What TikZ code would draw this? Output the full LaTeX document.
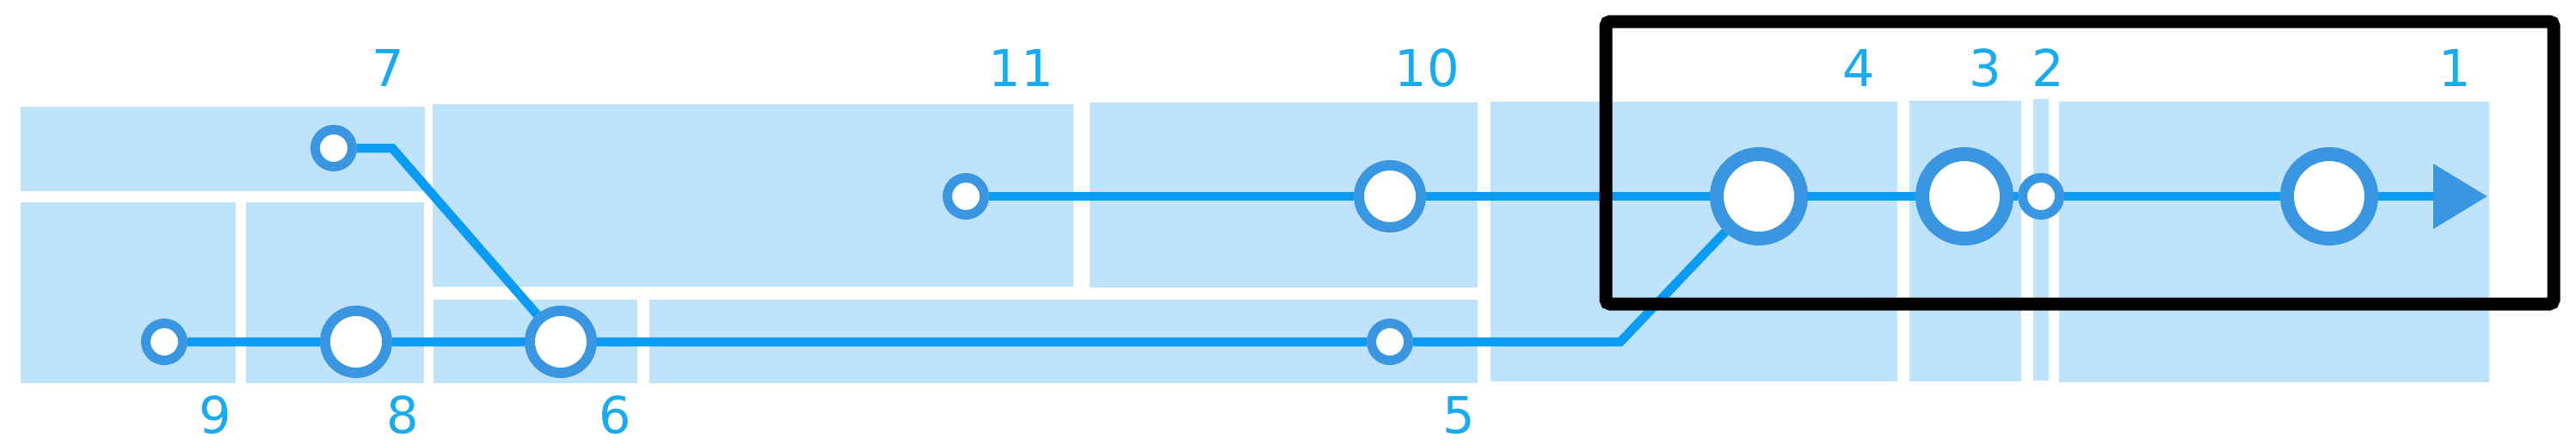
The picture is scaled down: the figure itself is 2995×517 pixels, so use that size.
\documentclass[tikz,border=0pt]{standalone}
\usepackage{fontspec}
\setmainfont{DejaVu Sans}
\usetikzlibrary{arrows.meta}
\definecolor{rectblue}{RGB}{190,227,251}
\definecolor{lineblue}{RGB}{10,155,245}
\definecolor{ringblue}{RGB}{58,150,224}
\definecolor{labelblue}{RGB}{25,170,240}
\pgfdeclarelayer{bglayer}
\pgfdeclarelayer{linelayer}
\pgfsetlayers{bglayer,linelayer,main}
\begin{document}
\begin{tikzpicture}[x=0.01cm,y=-0.01cm,
  zone/.style={fill=rectblue,draw=none},
  station/.style={circle,draw=ringblue,fill=white,inner sep=0pt},
  smallstation/.style={station,minimum size=0.43cm,line width=0.11cm},
  midstation/.style={station,minimum size=0.72cm,line width=0.12cm},
  bigstation/.style={station,minimum size=0.98cm,line width=0.16cm},
  track/.style={draw=lineblue,line width=0.105cm,line join=miter},
  lbl/.style={text=labelblue,font=\fontsize{16.8}{20}\selectfont,inner sep=0pt,anchor=base},
  focusbox/.style={draw=black,line width=0.15cm,rounded corners=0.05cm}]
\useasboundingbox (0,0) rectangle (2995,517);

% zones
\begin{pgfonlayer}{bglayer}
\fill[zone] (24,124) rectangle (494,222);
\fill[zone] (24,235) rectangle (274,445);
\fill[zone] (286,235) rectangle (493,445);
\fill[zone] (503,121) rectangle (1248,333);
\fill[zone] (504,348) rectangle (741,445);
\fill[zone] (755,348) rectangle (1718,445);
\fill[zone] (1267,119) rectangle (1718,334);
\fill[zone] (1733,118) rectangle (2206,443);
\fill[zone] (2220,117) rectangle (2350,443);
\fill[zone] (2364,115) rectangle (2382,442);
\fill[zone] (2394,118) rectangle (2894,444);
\end{pgfonlayer}

% stations
\node[smallstation] (n9) at (191,397) {};
\node[midstation] (n8) at (414,397) {};
\node[smallstation] (n7) at (388,172) {};
\node[midstation] (n6) at (652,397) {};
\node[smallstation] (n11) at (1123,228) {};
\node[smallstation] (n5) at (1616,397) {};
\node[midstation] (n10) at (1616,228) {};
\node[bigstation] (n4) at (2045,228) {};
\node[bigstation] (n3) at (2284,228) {};
\node[smallstation] (n2) at (2373,228) {};
\node[bigstation] (n1) at (2708,228) {};
\coordinate (bend7) at (456,172);
\coordinate (bend5) at (1884,397);
\coordinate (arrowend) at (2892,228);

% tracks
\begin{pgfonlayer}{linelayer}
\draw[track] (n7) -- (bend7) -- (n6);
\draw[track] (n9) -- (n8) -- (n6) -- (n5) -- (bend5) -- (n4);
\draw[track] (n11) -- (n10) -- (n4) -- (n3) -- (n2) -- (n1);
\draw[track,-{Triangle[length=0.63cm,width=0.73cm,color=ringblue]}] (n1) -- (arrowend);
\end{pgfonlayer}

% labels
\node[lbl] (l7) at (451,100) {7};
\node[lbl] (l11) at (1187,100) {11};
\node[lbl] (l10) at (1659,100) {10};
\node[lbl] (l4) at (2161,100) {4};
\node[lbl] (l3) at (2308,100) {3};
\node[lbl] (l2) at (2381,100) {2};
\node[lbl] (l1) at (2854,100) {1};
\node[lbl] (l9) at (250,503) {9};
\node[lbl] (l8) at (468,503) {8};
\node[lbl] (l6) at (715,503) {6};
\node[lbl] (l5) at (1696,503) {5};

% focus frame
\draw[focusbox] (1867,25) rectangle (2969,353);
\end{tikzpicture}
\end{document}
